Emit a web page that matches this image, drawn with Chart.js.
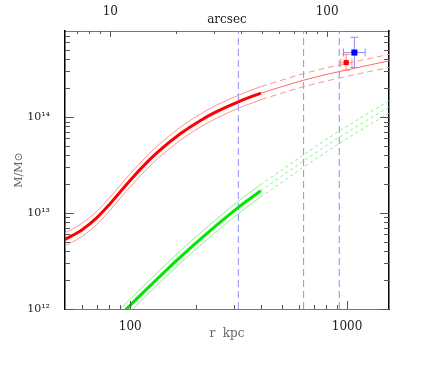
<!DOCTYPE html>
<html>
<head>
<meta charset="utf-8">
<script src="https://cdn.jsdelivr.net/npm/chart.js@4.4.1/dist/chart.umd.min.js"></script>
<style>
  html, body { margin: 0; padding: 0; background: #fff; }
</style>
</head>
<body>
<canvas id="massChart" width="425" height="365"></canvas>
<script>
// axis ranges (kpc, solar masses) and the arcsec conversion of the top axis
const R_MIN = 50, R_MAX = 1560;
const M_MIN = 1e12, M_MAX = 7.9e14;
const KPC_PER_ARCSEC = 8.09;
const R_FIT = 400; // thick curves stop here, extrapolation beyond

const X_LABELS = [100, 1000];
const X_MINOR = [60, 70, 80, 90, 200, 300, 400, 500, 600, 700, 800, 900];
const ARCSEC_LABELS = [10, 100];
const ARCSEC_MINOR = [7, 8, 9, 20, 30, 40, 50, 60, 70, 80, 90];
const Y_LABELS = [1e12, 1e13, 1e14];
const Y_LABEL_TEXT = ['10¹²', '10¹³', '10¹⁴'];
const Y_MINOR = [2e12, 3e12, 4e12, 5e12, 6e12, 7e12, 8e12, 9e12,
                 2e13, 3e13, 4e13, 5e13, 6e13, 7e13, 8e13, 9e13,
                 2e14, 3e14, 4e14, 5e14, 6e14, 7e14];

// red profile
const RED_R   = [50, 60, 70, 80, 90, 100, 120, 133, 170, 210, 250, 315, 400, 630, 920, 1560];
const RED_MID = [5.3e12, 6.7e12, 8.89e12, 1.224e13, 1.671e13, 2.203e13, 3.412e13, 4.266e13, 6.699e13, 9.18e13, 1.14e14, 1.445e14, 1.778e14, 2.427e14, 2.985e14, 3.855e14];
const RED_HI  = [6.2e12, 7.84e12, 1.04e13, 1.431e13, 1.954e13, 2.576e13, 3.99e13, 4.989e13, 7.834e13, 1.0736e14, 1.333e14, 1.69e14, 2.079e14, 2.838e14, 3.491e14, 4.508e14];
const RED_LO  = [4.53e12, 5.73e12, 7.6e12, 1.047e13, 1.429e13, 1.884e13, 2.917e13, 3.647e13, 5.728e13, 7.85e13, 9.75e13, 1.235e14, 1.52e14, 2.075e14, 2.552e14, 3.296e14];

// green profile
const GREEN_R   = [85, 96, 124, 170, 226, 315, 400, 630, 920, 1560];
const GREEN_MID = [7.6e11, 1.0e12, 1.762e12, 3.475e12, 6.15e12, 1.148e13, 1.706e13, 3.49e13, 6.17e13, 1.276e14];
const GREEN_HI  = [8.82e11, 1.16e12, 2.044e12, 4.031e12, 7.13e12, 1.332e13, 1.979e13, 4.05e13, 7.16e13, 1.48e14];
const GREEN_LO  = [6.55e11, 8.62e11, 1.519e12, 2.996e12, 5.3e12, 9.9e12, 1.471e13, 3.01e13, 5.32e13, 1.1e14];

// vertical markers (kpc)
const VLINES = [315, 630, 920];

// measured points with errors
const OBS_R    = [990, 1080];
const OBS_R_LO = [935, 962];
const OBS_R_HI = [1052, 1211];
const OBS_M    = [3.7e14, 4.71e14];
const OBS_M_LO = [3.08e14, 3.3e14];
const OBS_M_HI = [4.5e14, 6.8e14];
const OBS_COLORS = ['#ff0000', '#0000ff'];
const OBS_ERR_COLORS = ['#ff8c8c', '#8c8cff'];
const OBS_SIZE = [3.6, 4.3];

function curve(rs, ms, keep, color, width, dash) {
    const pts = [];
    rs.forEach((r, i) => { if (keep(r)) pts.push({ x: r, y: ms[i] }); });
    return {
        type: 'line',
        data: pts,
        borderColor: color,
        borderWidth: width,
        borderDash: dash || [],
        pointRadius: 0,
        cubicInterpolationMode: 'monotone',
        fill: false
    };
}
const inFit = r => r <= R_FIT;
const outFit = r => r >= R_FIT;

const datasets = [];

// observations on top
OBS_R.forEach((r, i) => {
    datasets.push({
        type: 'scatter',
        data: [{ x: r, y: OBS_M[i] }],
        pointStyle: 'rect',
        pointRadius: OBS_SIZE[i],
        backgroundColor: OBS_COLORS[i],
        borderWidth: 0
    });
});

datasets.push(curve(RED_R, RED_MID, inFit, '#ff0000', 3));
datasets.push(curve(RED_R, RED_HI, inFit, '#ff9090', 1));
datasets.push(curve(RED_R, RED_LO, inFit, '#ff9090', 1));
datasets.push(curve(RED_R, RED_MID, outFit, '#ff6a6a', 1));
datasets.push(curve(RED_R, RED_HI, outFit, '#ff9090', 1, [6, 4]));
datasets.push(curve(RED_R, RED_LO, outFit, '#ff9090', 1, [6, 4]));

datasets.push(curve(GREEN_R, GREEN_MID, inFit, '#00e600', 3));
datasets.push(curve(GREEN_R, GREEN_HI, inFit, '#88f088', 1));
datasets.push(curve(GREEN_R, GREEN_LO, inFit, '#88f088', 1));
datasets.push(curve(GREEN_R, GREEN_MID, outFit, '#88f088', 1, [3, 3]));
datasets.push(curve(GREEN_R, GREEN_HI, outFit, '#88f088', 1, [3, 3]));
datasets.push(curve(GREEN_R, GREEN_LO, outFit, '#88f088', 1, [3, 3]));

VLINES.forEach(v => {
    datasets.push({
        type: 'line',
        data: [{ x: v, y: M_MIN }, { x: v, y: M_MAX }],
        borderColor: '#8c8cff',
        borderWidth: 1,
        borderDash: [7, 4],
        pointRadius: 0
    });
});

// error bars drawn from the observation arrays
const errorBars = {
    id: 'errorBars',
    beforeDatasetsDraw(chart) {
        const { ctx, scales: { x, y } } = chart;
        const cap = 4;
        ctx.save();
        ctx.lineWidth = 1;
        OBS_R.forEach((r, i) => {
            const px = x.getPixelForValue(r), py = y.getPixelForValue(OBS_M[i]);
            const x0 = x.getPixelForValue(OBS_R_LO[i]), x1 = x.getPixelForValue(OBS_R_HI[i]);
            const y0 = y.getPixelForValue(OBS_M_LO[i]), y1 = y.getPixelForValue(OBS_M_HI[i]);
            ctx.strokeStyle = OBS_ERR_COLORS[i];
            ctx.beginPath();
            ctx.moveTo(px, y0); ctx.lineTo(px, y1);
            ctx.moveTo(x0, py); ctx.lineTo(x1, py);
            ctx.moveTo(px - cap, y0); ctx.lineTo(px + cap, y0);
            ctx.moveTo(px - cap, y1); ctx.lineTo(px + cap, y1);
            ctx.moveTo(x0, py - cap); ctx.lineTo(x0, py + cap);
            ctx.moveTo(x1, py - cap); ctx.lineTo(x1, py + cap);
            ctx.stroke();
        });
        ctx.restore();
    }
};

// ticks pointing into the plot box on all four sides
const innerTicks = {
    id: 'innerTicks',
    afterDraw(chart) {
        const { ctx, chartArea: a, scales } = chart;
        ctx.save();
        ctx.strokeStyle = '#555';
        ctx.lineWidth = 1;
        const seg = (x0, y0, x1, y1) => {
            ctx.beginPath(); ctx.moveTo(x0, y0); ctx.lineTo(x1, y1); ctx.stroke();
        };
        const vx = (scale, v) => Math.round(scale.getPixelForValue(v)) + 0.5;
        X_LABELS.forEach(v => { const p = vx(scales.x, v); seg(p, a.bottom, p, a.bottom - 8); });
        X_MINOR.forEach(v => { const p = vx(scales.x, v); seg(p, a.bottom, p, a.bottom - 4); });
        ARCSEC_LABELS.forEach(v => { const p = vx(scales.xTop, v); seg(p, a.top, p, a.top + 6); });
        ARCSEC_MINOR.forEach(v => { const p = vx(scales.xTop, v); seg(p, a.top, p, a.top + 3); });
        Y_LABELS.forEach(v => {
            const p = vx(scales.y, v);
            seg(a.left, p, a.left + 9, p); seg(a.right, p, a.right - 9, p);
        });
        Y_MINOR.forEach(v => {
            const p = vx(scales.y, v);
            seg(a.left, p, a.left + 5, p); seg(a.right, p, a.right - 5, p);
        });
        ctx.restore();
    }
};

const serif = 'DejaVu Serif';

new Chart(document.getElementById('massChart'), {
    data: { datasets: datasets },
    options: {
        responsive: false,
        animation: false,
        layout: { padding: 0 },
        plugins: { legend: { display: false }, tooltip: { enabled: false } },
        scales: {
            x: {
                type: 'logarithmic',
                position: 'bottom',
                min: R_MIN,
                max: R_MAX,
                grid: { display: false },
                border: { color: '#777', width: 1 },
                afterBuildTicks: s => { s.ticks = X_LABELS.map(v => ({ value: v })); },
                afterFit: s => { s.height = 56; },
                ticks: {
                    autoSkip: false,
                    maxRotation: 0,
                    padding: 3,
                    color: '#222',
                    font: { family: serif, size: 12 },
                    callback: v => String(v)
                },
                title: {
                    display: true,
                    text: 'r  kpc',
                    color: '#666',
                    font: { family: serif, size: 12 },
                    padding: { top: 0, bottom: 24 }
                }
            },
            xTop: {
                type: 'logarithmic',
                position: 'top',
                min: R_MIN / KPC_PER_ARCSEC,
                max: R_MAX / KPC_PER_ARCSEC,
                grid: { display: false },
                border: { color: '#777', width: 1 },
                afterBuildTicks: s => { s.ticks = ARCSEC_LABELS.map(v => ({ value: v })); },
                afterFit: s => { s.height = 31; },
                ticks: {
                    autoSkip: false,
                    maxRotation: 0,
                    padding: 4,
                    color: '#222',
                    font: { family: serif, size: 12 },
                    callback: v => String(v)
                },
                title: {
                    display: true,
                    text: 'arcsec',
                    color: '#222',
                    font: { family: serif, size: 12 },
                    padding: { top: 13, bottom: 0 }
                }
            },
            y: {
                type: 'logarithmic',
                position: 'left',
                min: M_MIN,
                max: M_MAX,
                grid: { display: false },
                border: { color: '#000', width: 1.5 },
                afterBuildTicks: s => { s.ticks = Y_LABELS.map(v => ({ value: v })); },
                afterFit: s => { s.width = 65; },
                ticks: {
                    autoSkip: false,
                    padding: 7,
                    color: '#222',
                    font: { family: serif, size: 11 },
                    callback: (v, i) => Y_LABEL_TEXT[i]
                },
                title: {
                    display: true,
                    text: 'M/M⊙',
                    color: '#666',
                    font: { family: serif, size: 11 },
                    padding: { top: 13, bottom: 0 }
                }
            },
            yR: {
                type: 'logarithmic',
                position: 'right',
                min: M_MIN,
                max: M_MAX,
                grid: { display: false },
                border: { color: '#000', width: 1.5 },
                afterFit: s => { s.width = 36; },
                ticks: { display: false }
            }
        }
    },
    plugins: [errorBars, innerTicks]
});
</script>
</body>
</html>
